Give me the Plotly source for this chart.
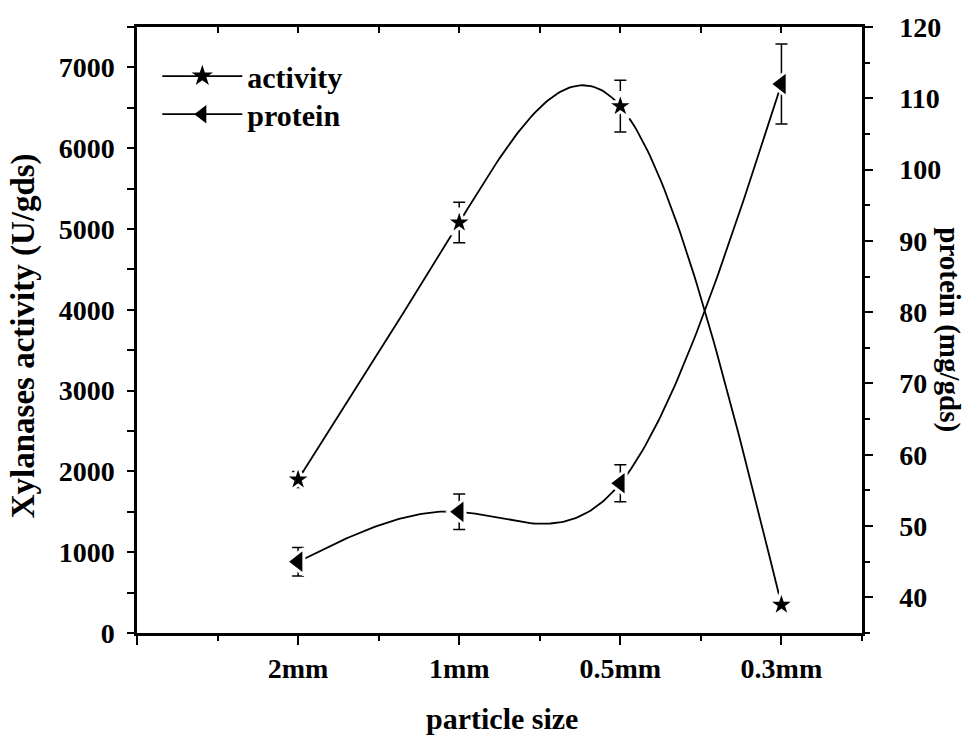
import numpy as np
import plotly.graph_objects as go

# Particle sizes along the x axis (positions 1..4)
sizes = ["2mm", "1mm", "0.5mm", "0.3mm"]
positions = [1, 2, 3, 4]

# Xylanase activity (U/gds) and its error
activity = [1900, 5080, 6520, 350]
activity_err = [100, 250, 320, 60]

# Protein (mg/gds) and its error
protein = [45, 52, 56, 112]
protein_err = [2.0, 2.5, 2.6, 5.6]

FONT = "Liberation Serif"
BLACK = "#000000"


def natural_cubic_spline(xs, ys, per_segment=60):
    """Smooth connecting curve through the given points (natural end conditions)."""
    xs = np.asarray(xs, float)
    ys = np.asarray(ys, float)
    n = len(xs)
    h = np.diff(xs)
    A = np.zeros((n, n))
    rhs = np.zeros(n)
    A[0, 0] = A[-1, -1] = 1.0
    for i in range(1, n - 1):
        A[i, i - 1] = h[i - 1]
        A[i, i] = 2 * (h[i - 1] + h[i])
        A[i, i + 1] = h[i]
        rhs[i] = 6 * ((ys[i + 1] - ys[i]) / h[i] - (ys[i] - ys[i - 1]) / h[i - 1])
    M = np.linalg.solve(A, rhs)
    cx, cy = [], []
    for i in range(n - 1):
        t = np.linspace(0, 1, per_segment, endpoint=(i == n - 2))
        a, b = 1 - t, t
        seg = a * ys[i] + b * ys[i + 1] + ((a**3 - a) * M[i] + (b**3 - b) * M[i + 1]) * h[i] ** 2 / 6
        cx.extend(xs[i] + t * h[i])
        cy.extend(seg)
    return cx, cy


fig = go.Figure()

series = [
    ("activity", activity, activity_err, "star", 21, "y", "legend"),
    ("protein", protein, protein_err, "triangle-left", 23, "y2", "legend2"),
]

for name, vals, errs, symbol, msize, yax, leg in series:
    cx, cy = natural_cubic_spline(positions, vals)
    # smooth connecting curve
    fig.add_trace(go.Scatter(x=cx, y=cy, mode="lines", line=dict(color=BLACK, width=1.8),
                             showlegend=False, hoverinfo="skip", xaxis="x", yaxis=yax))
    # data points with error bars, white rim leaves a small gap around each marker
    fig.add_trace(go.Scatter(
        x=positions, y=vals, mode="markers", showlegend=False,
        marker=dict(symbol=symbol, size=msize, color=BLACK, line=dict(color="white", width=3)),
        error_y=dict(type="data", array=errs, color=BLACK, thickness=1.5, width=6),
        xaxis="x", yaxis=yax,
    ))
    # legend entry (each series gets its own legend box)
    fig.add_trace(go.Scatter(
        x=[None], y=[None], mode="lines+markers", name=f"<b>{name}</b>", legend=leg,
        line=dict(color=BLACK, width=1.8),
        marker=dict(symbol=symbol, size=msize, color=BLACK),
        xaxis="x", yaxis=yax,
    ))

# invisible trace so the top frame axis gets drawn
fig.add_trace(go.Scatter(x=[0], y=[0], mode="markers", marker=dict(opacity=0),
                         showlegend=False, hoverinfo="skip", xaxis="x3", yaxis="y"))

tick_font = dict(family=FONT, size=28, color=BLACK)
legend_style = dict(x=0.028, xanchor="left", yanchor="top",
                    font=dict(family=FONT, size=30, color=BLACK),
                    bgcolor="rgba(0,0,0,0)", itemwidth=80)

fig.update_layout(
    width=968, height=738,
    margin=dict(l=137, r=106, t=18, b=105),
    paper_bgcolor="white", plot_bgcolor="white",
    showlegend=True,
    legend=dict(y=0.962, **legend_style),
    legend2=dict(y=0.899, **legend_style),
    xaxis=dict(
        range=[0, 4.5], tickvals=[0] + positions, ticktext=["<b></b>"] + [f"<b>{s}</b>" for s in sizes],
        ticks="outside", ticklen=9, tickwidth=2, tickcolor=BLACK,
        minor=dict(dtick=0.5, tick0=0, ticks="outside", ticklen=5, tickwidth=2, tickcolor=BLACK),
        showline=True, linecolor=BLACK, linewidth=2.5, showgrid=False, zeroline=False,
        tickfont=tick_font, ticklabelstandoff=0,
    ),
    xaxis3=dict(
        range=[0, 4.5], overlaying="x", side="top", anchor="y",
        tickvals=[0.5 * i for i in range(10)], ticks="inside", ticklen=6, tickwidth=2, tickcolor=BLACK,
        showticklabels=False, showline=True, linecolor=BLACK, linewidth=2.5, showgrid=False, zeroline=False,
    ),
    yaxis=dict(
        range=[0, 7500], tickvals=list(range(0, 8000, 1000)),
        ticktext=[f"<b>{v}</b>" for v in range(0, 8000, 1000)],
        ticks="outside", ticklen=7, tickwidth=2, tickcolor=BLACK,
        minor=dict(dtick=500, tick0=0, ticks="outside", ticklen=7, tickwidth=2, tickcolor=BLACK),
        showline=True, linecolor=BLACK, linewidth=2.5, showgrid=False, zeroline=False,
        tickfont=tick_font, ticklabelstandoff=7,
    ),
    yaxis2=dict(
        range=[35, 120], overlaying="y", side="right", anchor="x",
        tickvals=list(range(40, 130, 10)), ticktext=[f"<b>{v}</b>" for v in range(40, 130, 10)],
        ticks="outside", ticklen=8, tickwidth=2, tickcolor=BLACK,
        minor=dict(dtick=5, tick0=35, ticks="outside", ticklen=5, tickwidth=2, tickcolor=BLACK),
        showline=True, linecolor=BLACK, linewidth=2.5, showgrid=False, zeroline=False,
        tickfont=tick_font, ticklabelstandoff=21,
    ),
    annotations=[
        dict(text="<b>Xylanases activity (U/gds)</b>", xref="paper", yref="paper",
             x=-0.157, y=0.49, xanchor="center", yanchor="middle", textangle=-90, showarrow=False,
             font=dict(family=FONT, size=33, color=BLACK)),
        dict(text="<b>protein (mg/gds)</b>", xref="paper", yref="paper",
             x=1.121, y=0.5, xanchor="center", yanchor="middle", textangle=90, showarrow=False,
             font=dict(family=FONT, size=29, color=BLACK)),
        dict(text="<b>particle size</b>", xref="paper", yref="paper",
             x=0.503, y=-0.1415, xanchor="center", yanchor="middle", showarrow=False,
             font=dict(family=FONT, size=30, color=BLACK)),
    ],
)

fig.write_html("out.html")
